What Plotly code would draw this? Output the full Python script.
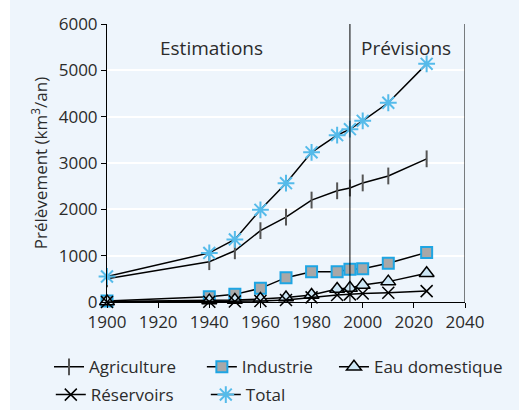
import plotly.graph_objects as go

years = [1900, 1940, 1950, 1960, 1970, 1980, 1990, 1995, 2000, 2010, 2025]
agriculture = [500, 870, 1105, 1540, 1830, 2200, 2400, 2460, 2570, 2720, 3090]
industrie = [20, 115, 165, 295, 525, 655, 655, 705, 720, 835, 1070]
eau_domestique = [10, 30, 45, 65, 95, 150, 280, 300, 365, 440, 620]
reservoirs = [0, 5, 10, 20, 45, 100, 150, 165, 185, 200, 235]
total = [550, 1060, 1350, 1990, 2565, 3230, 3600, 3730, 3910, 4300, 5140]

x_ticks = [1900, 1920, 1940, 1960, 1980, 2000, 2020, 2040]
y_ticks = [0, 1000, 2000, 3000, 4000, 5000, 6000]

BG = "#EEF5FC"
TXT = "#2b2b2b"
FONT = "Open Sans"
FS = 17

fig = go.Figure()
line = dict(color="black", width=1.5)

fig.add_trace(go.Scatter(x=years, y=agriculture, name="Agriculture", mode="lines+markers",
                         line=line, legend="legend",
                         marker=dict(symbol="line-ns", size=12, line=dict(color="#555555", width=2))))
fig.add_trace(go.Scatter(x=years, y=industrie, name="Industrie", mode="lines+markers",
                         line=line, legend="legend2",
                         marker=dict(symbol="square", size=11, color="#A8A8A8",
                                     line=dict(color="#1EA5E3", width=2))))
fig.add_trace(go.Scatter(x=years, y=eau_domestique, name="Eau domestique", mode="lines+markers",
                         line=line, legend="legend3",
                         marker=dict(symbol="triangle-up", size=13, color="#CDE7F6",
                                     line=dict(color="black", width=1.5))))
fig.add_trace(go.Scatter(x=years, y=reservoirs, name="Réservoirs", mode="lines+markers",
                         line=line, legend="legend4",
                         marker=dict(symbol="x-thin-open", size=12, line=dict(color="black", width=1.5))))
fig.add_trace(go.Scatter(x=years, y=total, name="Total", mode="lines+markers",
                         line=line, legend="legend5",
                         marker=dict(symbol="asterisk-open", size=14, color="#55BBEA",
                                     line=dict(color="#55BBEA", width=2))))

fig.update_traces(cliponaxis=False)

fig.add_shape(type="line", x0=1995, x1=1995, y0=0, y1=6000, xref="x", yref="y",
              line=dict(color="black", width=1))
fig.add_shape(type="line", x0=2040, x1=2040, y0=0, y1=6000, xref="x", yref="y",
              line=dict(color="black", width=1))
fig.add_shape(type="rect", xref="paper", yref="paper", x0=-0.35, x1=-0.271, y0=-1, y1=2,
              fillcolor="white", line=dict(width=0), layer="below")

fig.add_annotation(x=1941, y=5475, text="Estimations", showarrow=False,
                   font=dict(size=19, color=TXT, family=FONT))
fig.add_annotation(x=2017, y=5475, text="Prévisions", showarrow=False,
                   font=dict(size=19, color=TXT, family=FONT))


def leg(x, y):
    return dict(orientation="h", x=x, y=y, xanchor="left", yanchor="top",
                bgcolor="rgba(0,0,0,0)", font=dict(size=FS, color=TXT), itemwidth=30)


fig.update_layout(
    width=519, height=410,
    margin=dict(l=107, r=54, t=24, b=108, autoexpand=False),
    paper_bgcolor=BG, plot_bgcolor=BG,
    font=dict(family=FONT, size=FS, color=TXT),
    xaxis=dict(range=[1900, 2040], tickvals=x_ticks, showgrid=False, zeroline=False,
               showline=True, linecolor="black", linewidth=1,
               ticks="outside", ticklen=5, tickcolor="black", automargin=False,
               tickfont=dict(size=FS, color=TXT)),
    yaxis=dict(range=[0, 6000], tickvals=y_ticks, showgrid=True, gridcolor="white", gridwidth=1.5,
               zeroline=False, showline=True, linecolor="black", linewidth=1,
               ticks="outside", ticklen=5, tickcolor="black", automargin=False,
               tickfont=dict(size=FS, color=TXT),
               title=dict(text="Prélèvement (km<sup>3</sup>/an)", font=dict(size=FS, color=TXT),
                          standoff=6)),
    legend=leg(-0.162, -0.17),
    legend2=leg(0.265, -0.17),
    legend3=leg(0.634, -0.17),
    legend4=leg(-0.157, -0.27),
    legend5=leg(0.276, -0.27),
    showlegend=True,
)

fig.write_html("out.html", post_script="document.body.style.margin='0';",
               config={"displayModeBar": False})
